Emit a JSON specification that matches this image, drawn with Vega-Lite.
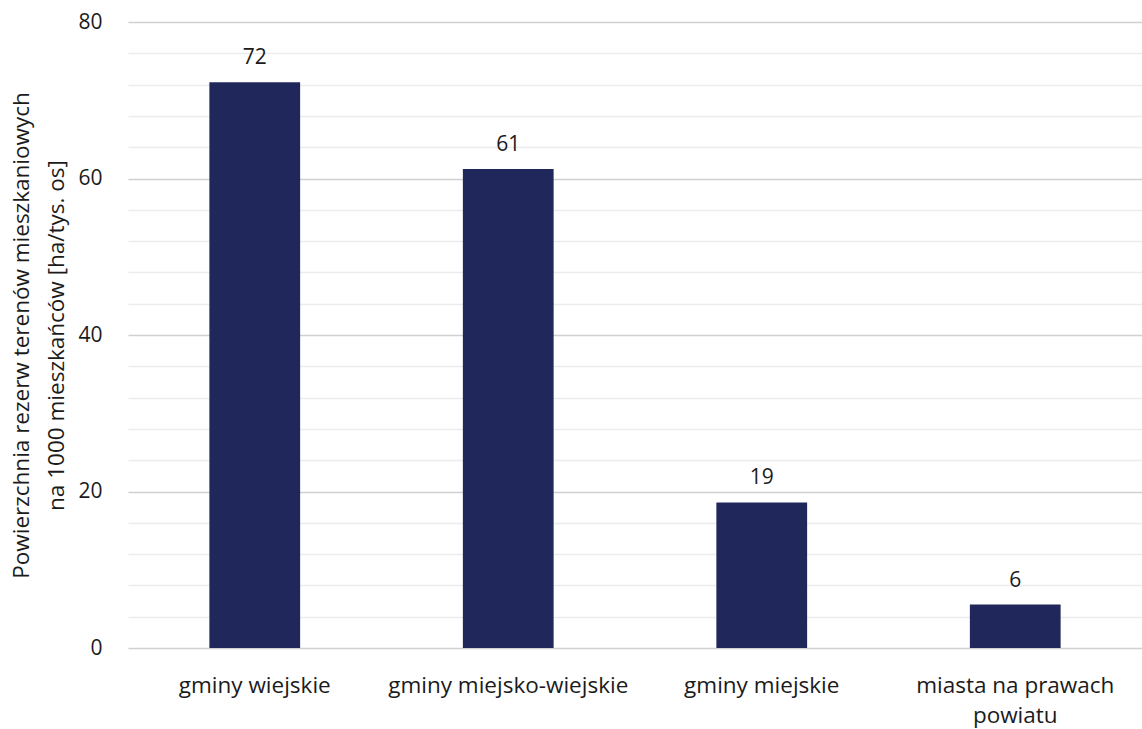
{
  "$schema": "https://vega.github.io/schema/vega-lite/v6.json",
  "autosize": {"type": "none"},
  "width": 1014,
  "height": 626,
  "padding": {"left": 128, "top": 22, "right": 0, "bottom": 81},
  "background": "white",
  "config": {
    "view": {"stroke": null},
    "font": "Open Sans"
  },
  "data": {
    "values": [
      {"kategoria": "gminy wiejskie", "wartosc": 72.3},
      {"kategoria": "gminy miejsko-wiejskie", "wartosc": 61.2},
      {"kategoria": "gminy miejskie", "wartosc": 18.6},
      {"kategoria": "miasta na prawach powiatu", "wartosc": 5.55}
    ]
  },
  "encoding": {
    "x": {
      "field": "kategoria",
      "type": "nominal",
      "sort": null,
      "scale": {"paddingInner": 0.642, "paddingOuter": 0.321},
      "axis": {
        "title": null,
        "labelAngle": 0,
        "domain": false,
        "ticks": false,
        "labelFont": "Open Sans",
        "labelFontSize": 22.5,
        "labelColor": "#1b1b1b",
        "labelPadding": 44,
        "labelBaseline": "alphabetic",
        "labelLineHeight": 30,
        "labelLimit": 400,
        "labelExpr": "datum.label == 'miasta na prawach powiatu' ? ['miasta na prawach', 'powiatu'] : datum.label"
      }
    },
    "y": {
      "field": "wartosc",
      "type": "quantitative",
      "scale": {"domain": [0, 80], "nice": false},
      "axis": {
        "values": [0, 4, 8, 12, 16, 20, 24, 28, 32, 36, 40, 44, 48, 52, 56, 60, 64, 68, 72, 76, 80],
        "title": ["Powierzchnia rezerw terenów mieszkaniowych", "na 1000 mieszkańców [ha/tys. os]"],
        "titleFont": "Open Sans",
        "titleFontSize": 22.5,
        "titleFontWeight": "normal",
        "titleColor": "#1b1b1b",
        "titleAngle": -90,
        "titleAlign": "center",
        "titleBaseline": "alphabetic",
        "titleLineHeight": 35,
        "titleX": -100,
        "titleY": 313,
        "domain": false,
        "ticks": false,
        "labelFont": "Open Sans",
        "labelFontSize": 21,
        "labelColor": "#1b1b1b",
        "labelPadding": 26,
        "labelExpr": "datum.value % 20 === 0 ? datum.label : ''",
        "grid": true,
        "gridWidth": 1.5,
        "gridColor": {"condition": {"test": "datum.value % 20 === 0", "value": "#d0d0d0"}, "value": "#ececec"}
      }
    }
  },
  "layer": [
    {"mark": {"type": "bar", "color": "#20285b"}},
    {
      "mark": {"type": "text", "baseline": "alphabetic", "dy": -18, "fontSize": 21, "font": "Open Sans", "color": "#1b1b1b"},
      "encoding": {"text": {"field": "wartosc", "type": "quantitative", "format": ".0f"}}
    }
  ]
}
